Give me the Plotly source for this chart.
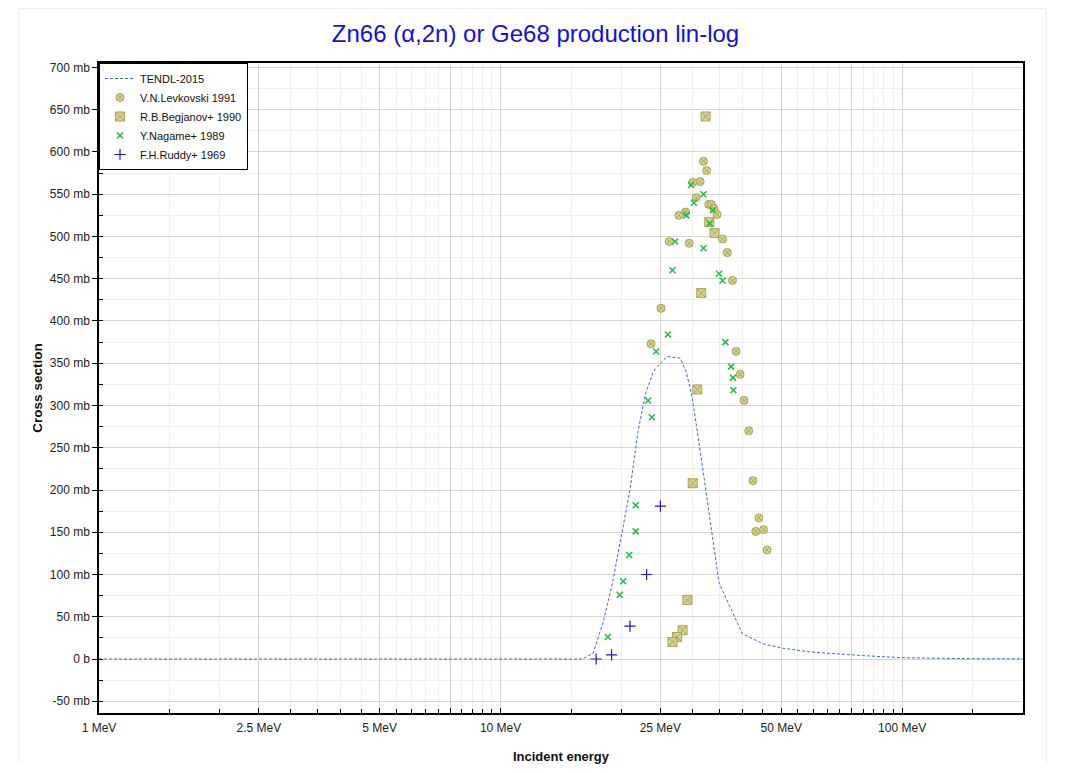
import plotly.graph_objects as go

# ---------------- data ----------------
tendl_e = [1, 5, 10, 15, 16, 17, 18, 19, 20, 21, 22, 23, 24, 25, 26, 27, 28, 29, 30,
           32, 35, 40, 45, 50, 60, 80, 100, 150, 200]
tendl_xs = [0, 0, 0, 0, 0, 7, 43, 90, 145, 200, 270, 315, 340, 350, 358, 357, 356, 340, 310,
            220, 90, 30, 18, 13, 8, 4, 1.5, 0.3, 0.1]

levk_e = [32.0, 32.6, 30.1, 31.4, 30.7, 33.0, 33.5, 34.0, 34.6, 28.9, 27.8, 35.7, 36.7,
          26.3, 29.5, 37.8, 25.1, 23.7, 38.6, 39.5, 40.4, 41.5, 42.5, 44.0, 43.2, 45.2, 46.1]
levk_xs = [589, 578, 564, 565, 546, 538, 538, 533, 526, 529, 525, 497, 481,
           494, 492, 448, 415, 373, 364, 337, 306, 270, 211, 167, 151, 153, 129]

begj_e = [32.4, 33.1, 34.1, 31.6, 30.9, 30.1, 29.2, 28.4, 27.5, 26.8]
begj_xs = [642, 517, 504, 433, 319, 208, 70, 34, 26, 20]

nag_e = [32.0, 29.8, 30.3, 29.0, 33.8, 33.2, 27.2, 32.0, 26.8, 35.0, 35.7, 26.1, 24.4,
         36.3, 37.5, 37.9, 38.0, 23.3, 23.8, 21.7, 21.7, 20.9, 20.2, 19.8, 18.5]
nag_xs = [550, 561, 540, 525, 531, 515, 494, 486, 460, 456, 448, 384, 364,
          375, 346, 333, 318, 306, 286, 182, 151, 123, 92, 76, 26]

rud_e = [25.0, 23.1, 21.0, 18.9, 17.3]
rud_xs = [181, 100, 39, 5, 0]

x_major = [1, 2.5, 5, 7.5, 10, 25, 50, 75, 100]
x_labels = ["1 MeV", "2.5 MeV", "5 MeV", "", "10 MeV", "25 MeV", "50 MeV", "", "100 MeV"]
x_minor = [1.5, 2, 3, 3.5, 4, 4.5, 5.5, 6, 6.5, 7, 8, 8.5, 9, 9.5, 15, 20, 30, 35, 40, 45,
           55, 60, 65, 70, 80, 85, 90, 95, 150]

y_major = list(range(-50, 701, 50))
y_labels = ["0 b" if v == 0 else f"{v} mb" for v in y_major]

# ---------------- figure ----------------
fig = go.Figure()

fig.add_trace(go.Scatter(
    x=tendl_e, y=tendl_xs, mode="lines", name="TENDL-2015",
    line=dict(color="#3a66e8", width=1, dash="3px,2px")))

fig.add_trace(go.Scatter(
    x=levk_e, y=levk_xs, mode="markers", name="V.N.Levkovski 1991",
    marker=dict(symbol="circle-x", size=8, color="#d8d294",
                line=dict(color="#aaa355", width=1))))

fig.add_trace(go.Scatter(
    x=begj_e, y=begj_xs, mode="markers", name="R.B.Begjanov+ 1990",
    marker=dict(symbol="square-x", size=9, color="#d8d294",
                line=dict(color="#aaa355", width=1))))

fig.add_trace(go.Scatter(
    x=nag_e, y=nag_xs, mode="markers", name="Y.Nagame+ 1989",
    marker=dict(symbol="x-thin", size=6, color="#22bb44",
                line=dict(color="#22bb44", width=1.5))))

fig.add_trace(go.Scatter(
    x=rud_e, y=rud_xs, mode="markers", name="F.H.Ruddy+ 1969",
    marker=dict(symbol="cross-thin", size=8, color="#1a1acc",
                line=dict(color="#1a1acc", width=1.2))))

font_family = "Liberation Sans, Arial, sans-serif"

W, H = 1055, 757
fig.update_layout(
    width=W, height=H,
    paper_bgcolor="white", plot_bgcolor="white",
    margin=dict(l=91, r=40, t=55, b=52, autoexpand=False),
    font=dict(family=font_family, size=12, color="#222"),
    title=dict(text="Zn66 (α,2n) or Ge68 production lin-log",
               font=dict(family=font_family, size=24, color="#1010e0"),
               x=0.5, xanchor="center", y=1 - 26 / H, yanchor="middle"),
    showlegend=True,
    legend=dict(x=0, y=1, xanchor="left", yanchor="top",
                bgcolor="white", bordercolor="black", borderwidth=1,
                font=dict(family=font_family, size=11, color="#111"),
                tracegroupgap=0, itemwidth=30),
    xaxis=dict(
        type="log", range=[0, 2.301], automargin=False,
        tickmode="array", tickvals=x_major, ticktext=x_labels,
        ticks="inside", ticklen=5, tickcolor="black",
        showline=True, linecolor="black", linewidth=1.5, mirror=True,
        showgrid=True, gridcolor="#d4d4d4", gridwidth=1,
        minor=dict(tickmode="array", tickvals=x_minor, ticks="inside", ticklen=4,
                   tickcolor="black", showgrid=True, gridcolor="#eeeeee", gridwidth=1),
        tickfont=dict(size=12, color="#222"),
        ticklabelstandoff=3,
        title=dict(text="<b>Incident energy</b>", font=dict(size=13, color="#111"),
                   standoff=18),
        zeroline=False),
    yaxis=dict(
        range=[-63.9, 705.3], automargin=False,
        tickmode="array", tickvals=y_major, ticktext=y_labels,
        ticks="outside", ticklen=5, tickcolor="black",
        showline=True, linecolor="black", linewidth=1.5, mirror=True,
        showgrid=True, gridcolor="#d4d4d4", gridwidth=1,
        minor=dict(dtick=25, tick0=-25, ticks="inside", ticklen=4, tickcolor="black",
                   showgrid=True, gridcolor="#eeeeee", gridwidth=1),
        tickfont=dict(size=12, color="#222"),
        title=dict(text="<b>Cross section</b>", font=dict(size=13.5, color="#111"),
                   standoff=4),
        zeroline=False),
)

# faint outer frame
fig.add_shape(type="rect", xref="paper", yref="paper",
              x0=-0.0866, x1=1.0251, y0=-0.11, y1=1.084,
              line=dict(color="#eeeeee", width=1), layer="below")

fig.write_html("out.html")
